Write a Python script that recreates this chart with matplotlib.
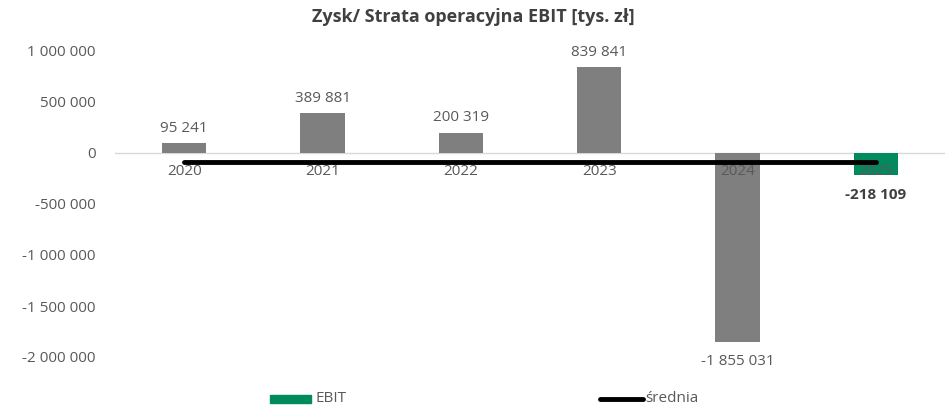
import numpy as np
import matplotlib.pyplot as plt

plt.rcParams['font.family'] = ['Open Sans', 'DejaVu Sans']

years = ['2020', '2021', '2022', '2023', '2024', '2025']
ebit = [95241, 389881, 200319, 839841, -1855031, -218109]
labels = ['95 241', '389 881', '200 319', '839 841', '-1 855 031', '-218 109']
yticks = [1000000, 500000, 0, -500000, -1000000, -1500000, -2000000]
ytick_labels = ['1 000 000', '500 000', '0', '-500 000', '-1 000 000', '-1 500 000', '-2 000 000']

gray = '#7f7f7f'
green = '#008a5e'
txt = '#595959'

mean = np.mean(ebit)
x = np.arange(len(years))
colors = [gray] * 5 + [green]

fig = plt.figure(figsize=(9.46, 4.09), dpi=100)
ax = fig.add_axes([115/946, 1 - 357/409, 830/946, 306/409])

ax.bar(x, ebit, width=0.32, color=colors, zorder=2)
ax.plot(x, [mean] * len(x), color='black', lw=3.5, solid_capstyle='round', zorder=3)
ax.axhline(0, color='#d9d9d9', lw=1, zorder=1)

ax.set_xlim(-0.5, len(x) - 0.5)
ax.set_ylim(-2000000, 1000000)
ax.set_yticks(yticks)
ax.set_yticklabels(ytick_labels, fontsize=11, color=txt)
ax.set_xticks([])
ax.tick_params(axis='y', length=0, pad=14)
for s in ax.spines.values():
    s.set_visible(False)

for i, y in enumerate(years):
    ax.text(i, -185000, y, ha='center', va='center', fontsize=11, color=txt, zorder=4)

for i, (v, l) in enumerate(zip(ebit, labels)):
    if i == 5:
        ax.text(i, v - 190000, l, ha='center', va='center', fontsize=11,
                fontweight='bold', color='#404040', zorder=4)
    elif v >= 0:
        ax.text(i, v + 70000, l, ha='center', va='bottom', fontsize=11, color=txt)
    else:
        ax.text(i, v - 190000, l, ha='center', va='center', fontsize=11, color=txt)

fig.text(0.5, 1 - 17/409, 'Zysk/ Strata operacyjna EBIT [tys. zł]', ha='center',
         va='center', fontsize=13, fontweight='bold', color='#404040')

# legend
fig.patches.append(plt.Rectangle((270/946, 1 - 403/409), 41/946, 8/409,
                                 transform=fig.transFigure, color=green))
fig.text(315/946, 1 - 399/409, 'EBIT', ha='left', va='center', fontsize=11, color=txt)
fig.lines.append(plt.Line2D([600/946, 643/946], [1 - 399/409, 1 - 399/409],
                            transform=fig.transFigure, color='black', lw=3.5,
                            solid_capstyle='round'))
fig.text(645/946, 1 - 399/409, 'średnia', ha='left', va='center', fontsize=11, color=txt)

fig.savefig('out.png', dpi=100)
